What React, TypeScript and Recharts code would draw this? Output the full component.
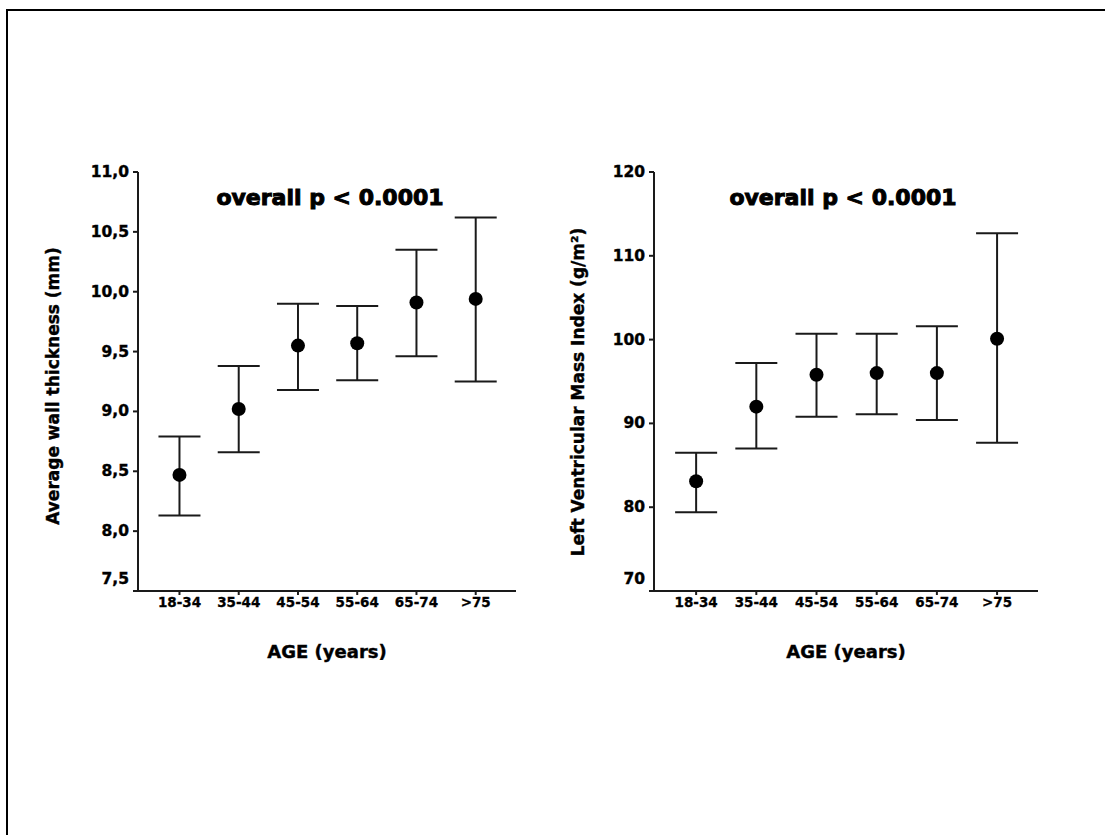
import React from 'react';
import { ComposedChart, Scatter, ErrorBar, XAxis, YAxis } from 'recharts';

const categories = ['18-34', '35-44', '45-54', '55-64', '65-74', '>75'];

const wallMean = [8.47, 9.02, 9.55, 9.57, 9.91, 9.94];
const wallLow = [8.13, 8.66, 9.18, 9.26, 9.46, 9.25];
const wallHigh = [8.79, 9.38, 9.9, 9.88, 10.35, 10.62];
const wallTicks = [7.5, 8.0, 8.5, 9.0, 9.5, 10.0, 10.5, 11.0];

const lvmiMean = [83.1, 92.0, 95.8, 96.0, 96.0, 100.1];
const lvmiLow = [79.4, 87.0, 90.8, 91.1, 90.4, 87.7];
const lvmiHigh = [86.5, 97.2, 100.7, 100.7, 101.6, 112.7];
const lvmiTicks = [70, 80, 90, 100, 110, 120];

const pTitle = 'overall p < 0.0001';
const xTitle = 'AGE (years)';
const wallLabel = 'Average wall thickness (mm)';
const lvmiLabel = 'Left Ventricular Mass Index (g/m\u00B2)';

const FONT = '"DejaVu Sans", Arial, sans-serif';
const INK = '#1a1a1a';

function buildRows(mean: number[], low: number[], high: number[]) {
  return categories.map((c, i) => ({
    x: i + 1,
    cat: c,
    y: mean[i],
    err: [mean[i] - low[i], high[i] - mean[i]],
  }));
}

const Dot = (props: any) => {
  const { cx, cy } = props;
  if (cx == null || cy == null) return null;
  return <circle cx={cx} cy={cy} r={7} fill="#000" />;
};

const makeYTick = (minVal: number, fmt: (v: number) => string) => (props: any) => {
  const { x, y, payload } = props;
  const shift = payload.value === minVal ? -12 : 0;
  return (
    <text
      x={x - 2}
      y={y + shift}
      textAnchor="end"
      dominantBaseline="central"
      fontFamily={FONT}
      fontWeight="bold"
      fontSize={15.5}
      fill="#000"
      stroke="#000"
      strokeWidth={0.4}
    >
      {fmt(payload.value)}
    </text>
  );
};

const XTick = (props: any) => {
  const { x, y, payload } = props;
  return (
    <text
      x={x}
      y={y}
      dy="0.75em"
      textAnchor="middle"
      fontFamily={FONT}
      fontWeight="bold"
      fontSize={13.5}
      fill="#000"
      stroke="#000"
      strokeWidth={0.3}
    >
      {categories[payload.value - 1]}
    </text>
  );
};

function Panel(props: {
  left: number;
  rightMargin: number;
  rows: any[];
  domain: [number, number];
  ticks: number[];
  fmt: (v: number) => string;
}) {
  const { left, rightMargin, rows, domain, ticks, fmt } = props;
  return (
    <div style={{ position: 'absolute', left, top: 0 }}>
      <ComposedChart
        width={560}
        height={700}
        data={rows}
        margin={{ top: 172, right: rightMargin, bottom: 79, left: 78 }}
      >
        <XAxis
          type="number"
          dataKey="x"
          domain={[0.3, 6.68]}
          ticks={[1, 2, 3, 4, 5, 6]}
          allowDataOverflow
          height={30}
          stroke={INK}
          strokeWidth={2}
          tickSize={4}
          tick={<XTick />}
        />
        <YAxis
          type="number"
          dataKey="y"
          domain={domain}
          ticks={ticks}
          allowDataOverflow
          width={60}
          stroke={INK}
          strokeWidth={2}
          tickSize={5}
          tick={makeYTick(domain[0], fmt)}
        />
        <Scatter dataKey="y" fill="#000" shape={<Dot />} isAnimationActive={false}>
          <ErrorBar dataKey="err" direction="y" width={21} stroke={INK} strokeWidth={2} />
        </Scatter>
      </ComposedChart>
    </div>
  );
}

export default function App() {
  const wallRows = buildRows(wallMean, wallLow, wallHigh);
  const lvmiRows = buildRows(lvmiMean, lvmiLow, lvmiHigh);
  return (
    <div
      style={{
        position: 'absolute',
        left: 0,
        top: 0,
        width: 1105,
        height: 835,
        background: '#fff',
        overflow: 'hidden',
      }}
    >
      <div
        style={{
          position: 'absolute',
          left: 6,
          top: 9,
          width: 1110,
          height: 840,
          borderTop: '2px solid #000',
          borderLeft: '2px solid #000',
        }}
      />
      <Panel
        left={0}
        rightMargin={44}
        rows={wallRows}
        domain={[7.5, 11]}
        ticks={wallTicks}
        fmt={(v) => v.toFixed(1).replace('.', ',')}
      />
      <Panel
        left={516}
        rightMargin={38}
        rows={lvmiRows}
        domain={[70, 120]}
        ticks={lvmiTicks}
        fmt={(v) => String(v)}
      />
      <svg
        width={1105}
        height={835}
        style={{ position: 'absolute', left: 0, top: 0, pointerEvents: 'none' }}
      >
        <g fontFamily={FONT} fontWeight="bold" fill="#000">
          <text x={330} y={205} textAnchor="middle" fontSize={22} stroke="#000" strokeWidth={1}>
            {pTitle}
          </text>
          <text x={843} y={205} textAnchor="middle" fontSize={22} stroke="#000" strokeWidth={1}>
            {pTitle}
          </text>
          <text x={327} y={658} textAnchor="middle" fontSize={18} stroke="#000" strokeWidth={0.4}>
            {xTitle}
          </text>
          <text x={846} y={658} textAnchor="middle" fontSize={18} stroke="#000" strokeWidth={0.4}>
            {xTitle}
          </text>
          <text
            x={53}
            y={386}
            textAnchor="middle"
            dominantBaseline="central"
            fontSize={17}
            stroke="#000"
            strokeWidth={0.4}
            transform="rotate(-90 53 386)"
          >
            {wallLabel}
          </text>
          <text
            x={578}
            y={392}
            textAnchor="middle"
            dominantBaseline="central"
            fontSize={17}
            stroke="#000"
            strokeWidth={0.4}
            transform="rotate(-90 578 392)"
          >
            {lvmiLabel}
          </text>
        </g>
      </svg>
    </div>
  );
}
